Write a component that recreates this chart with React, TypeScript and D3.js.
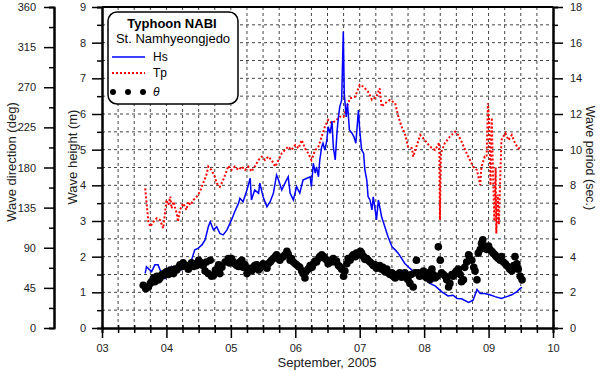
import React, { useEffect, useRef } from 'react';
import * as d3 from 'd3';

// time is day of September 2005 (decimal)
const dayTicks = [3, 4, 5, 6, 7, 8, 9, 10];
const dayLabels = ['03', '04', '05', '06', '07', '08', '09', '10'];
const heightTicks = [0, 1, 2, 3, 4, 5, 6, 7, 8, 9];
const directionTicks = [0, 45, 90, 135, 180, 225, 270, 315, 360];
const periodTicks = [0, 2, 4, 6, 8, 10, 12, 14, 16, 18];

// Hs (m)
const hsData: [number, number][] = [
  [3.67, 1.53], [3.69, 1.72], [3.77, 1.58], [3.82, 1.77], [3.87, 1.77], [3.90, 1.63],
  [3.95, 1.53], [3.98, 1.39], [4.03, 1.49], [4.08, 1.72], [4.13, 1.58], [4.18, 1.67],
  [4.24, 1.63], [4.29, 1.72], [4.34, 1.67], [4.39, 1.91], [4.44, 2.19], [4.49, 2.23],
  [4.55, 2.33], [4.60, 2.47], [4.65, 2.84], [4.68, 2.98], [4.73, 2.75], [4.78, 2.84],
  [4.83, 2.65], [4.88, 2.61], [4.94, 2.75], [5.01, 3.03], [5.06, 3.26], [5.12, 3.50],
  [5.14, 3.64], [5.19, 3.54], [5.25, 3.87], [5.30, 4.20], [5.32, 3.59], [5.37, 3.87],
  [5.43, 3.78], [5.45, 4.06], [5.50, 3.68], [5.56, 3.40], [5.61, 3.54], [5.66, 3.78],
  [5.71, 4.29], [5.74, 4.15], [5.79, 3.87], [5.84, 4.06], [5.89, 4.24], [5.92, 3.78],
  [5.97, 3.59], [6.02, 3.96], [6.07, 3.78], [6.12, 4.15], [6.18, 4.20], [6.23, 4.24],
  [6.25, 3.96], [6.28, 4.62], [6.31, 4.34], [6.33, 4.52], [6.36, 4.24], [6.38, 4.71],
  [6.41, 5.08], [6.43, 5.18], [6.46, 4.99], [6.49, 5.27], [6.51, 5.64], [6.54, 5.46],
  [6.57, 5.80], [6.59, 5.08], [6.62, 4.71], [6.65, 5.55], [6.67, 5.92], [6.69, 6.20],
  [6.72, 6.39], [6.745, 8.31], [6.76, 6.58], [6.79, 5.92], [6.81, 6.30], [6.84, 5.55],
  [6.88, 5.46], [6.91, 5.36], [6.94, 5.18], [6.98, 6.11], [7.00, 5.55], [7.03, 4.99],
  [7.06, 4.90], [7.08, 4.43], [7.11, 4.15], [7.13, 3.68], [7.16, 3.59], [7.19, 3.31],
  [7.21, 3.68], [7.24, 3.31], [7.26, 3.03], [7.29, 3.59], [7.31, 3.40], [7.34, 3.12],
  [7.39, 2.84], [7.44, 2.56], [7.50, 2.28], [7.55, 2.19], [7.60, 2.09], [7.65, 1.95],
  [7.70, 1.81], [7.78, 1.67], [7.86, 1.55], [7.94, 1.44], [8.01, 1.38], [8.09, 1.25],
  [8.17, 1.18], [8.27, 1.02], [8.37, 0.90], [8.45, 0.92], [8.51, 0.83], [8.58, 0.82],
  [8.69, 0.72], [8.76, 0.78], [8.82, 1.08], [8.87, 0.97], [8.94, 0.97], [9.02, 0.93],
  [9.10, 0.88], [9.20, 0.83], [9.28, 0.88], [9.36, 0.93], [9.44, 1.02], [9.49, 1.11],
  [9.52, 1.14],
];

// Tp (sec.)
const tpData: [number, number][] = [
  [3.67, 7.83], [3.72, 5.96], [3.75, 5.68], [3.80, 5.96], [3.85, 6.15], [3.90, 6.06],
  [3.95, 5.59], [3.98, 6.52], [4.00, 7.18], [4.03, 6.90], [4.06, 7.36], [4.08, 6.71],
  [4.11, 7.08], [4.13, 6.80], [4.16, 6.43], [4.18, 5.96], [4.21, 6.62], [4.26, 6.99],
  [4.31, 6.62], [4.34, 7.08], [4.37, 6.90], [4.42, 7.18], [4.47, 7.36], [4.52, 7.64],
  [4.57, 8.12], [4.62, 8.58], [4.65, 9.05], [4.70, 8.86], [4.75, 8.49], [4.78, 8.12],
  [4.83, 7.92], [4.88, 8.30], [4.94, 8.86], [4.96, 9.10], [5.01, 8.86], [5.06, 9.05],
  [5.12, 8.86], [5.17, 9.05], [5.22, 8.86], [5.27, 9.05], [5.32, 8.77], [5.37, 9.05],
  [5.43, 9.42], [5.48, 9.61], [5.53, 9.42], [5.58, 9.61], [5.63, 9.42], [5.69, 9.05],
  [5.74, 9.42], [5.79, 9.80], [5.84, 9.98], [5.89, 10.17], [5.94, 9.98], [6.00, 10.26],
  [6.05, 10.08], [6.10, 10.54], [6.15, 10.08], [6.20, 9.80], [6.25, 9.42], [6.31, 9.98],
  [6.36, 10.17], [6.41, 10.73], [6.46, 11.29], [6.51, 11.67], [6.57, 11.48], [6.64, 11.67],
  [6.69, 11.85], [6.75, 11.85], [6.80, 12.41], [6.85, 12.88], [6.93, 12.97], [7.00, 13.63],
  [7.06, 13.53], [7.13, 13.25], [7.19, 12.79], [7.26, 12.97], [7.31, 13.44], [7.34, 12.41],
  [7.39, 12.60], [7.47, 12.79], [7.55, 12.60], [7.60, 11.85], [7.65, 11.29], [7.70, 10.92],
  [7.75, 10.17], [7.81, 10.08], [7.83, 9.61], [7.88, 10.17], [7.94, 10.82], [8.01, 10.54],
  [8.09, 10.17], [8.17, 9.98], [8.235, 10.40], [8.245, 6.06], [8.26, 9.80], [8.32, 10.36],
  [8.40, 10.73], [8.48, 11.01], [8.53, 10.82], [8.58, 10.45], [8.66, 9.80], [8.71, 9.42],
  [8.76, 9.05], [8.82, 8.86], [8.87, 8.02], [8.89, 9.05], [8.94, 9.61], [8.97, 9.60],
  [8.99, 12.60], [9.01, 11.50], [9.03, 8.00], [9.05, 11.80], [9.07, 8.50], [9.09, 6.00],
  [9.11, 9.00], [9.12, 5.30], [9.14, 7.50], [9.16, 5.80], [9.18, 8.30], [9.20, 10.54],
  [9.26, 10.92], [9.31, 10.54], [9.36, 10.82], [9.41, 10.36], [9.46, 10.08], [9.50, 10.08],
];

// theta (deg)
const dirData: [number, number][] = [
  [3.64, 48], [3.68, 44], [3.72, 46], [3.75, 50], [3.77, 52], [3.80, 56], [3.82, 52],
  [3.85, 58], [3.88, 54], [3.90, 56], [3.93, 60], [3.95, 59], [3.98, 62], [4.00, 63],
  [4.03, 60], [4.06, 65], [4.08, 62], [4.11, 61], [4.13, 66], [4.16, 65], [4.19, 68],
  [4.21, 71], [4.24, 69], [4.26, 73], [4.29, 70], [4.32, 69], [4.34, 66], [4.37, 71],
  [4.39, 73], [4.42, 69], [4.45, 72], [4.47, 70], [4.50, 76], [4.52, 74], [4.55, 71],
  [4.57, 70], [4.60, 64], [4.62, 74], [4.65, 61], [4.68, 76], [4.70, 58], [4.73, 59],
  [4.76, 65], [4.81, 71], [4.83, 61], [4.86, 68], [4.91, 74], [4.96, 78], [4.98, 73],
  [5.01, 78], [5.04, 74], [5.06, 72], [5.09, 70], [5.12, 69], [5.14, 74], [5.17, 76],
  [5.19, 68], [5.22, 71], [5.25, 61], [5.27, 66], [5.30, 67], [5.32, 64], [5.35, 67],
  [5.37, 70], [5.40, 71], [5.43, 65], [5.45, 67], [5.48, 69], [5.50, 72], [5.53, 70],
  [5.56, 67], [5.58, 72], [5.61, 74], [5.63, 76], [5.66, 78], [5.69, 80], [5.71, 82],
  [5.74, 78], [5.76, 76], [5.79, 79], [5.81, 80], [5.84, 82], [5.87, 86], [5.89, 83],
  [5.92, 76], [5.94, 78], [5.97, 74], [6.00, 72], [6.02, 71], [6.05, 69], [6.07, 68],
  [6.10, 64], [6.12, 61], [6.15, 56], [6.17, 64], [6.20, 66], [6.23, 70], [6.26, 68],
  [6.28, 72], [6.31, 75], [6.33, 74], [6.36, 78], [6.38, 80], [6.41, 82], [6.44, 80],
  [6.46, 78], [6.49, 76], [6.51, 72], [6.54, 76], [6.56, 74], [6.59, 78], [6.62, 74],
  [6.64, 75], [6.67, 70], [6.69, 69], [6.72, 66], [6.75, 58], [6.77, 64], [6.80, 72],
  [6.82, 78], [6.85, 76], [6.88, 80], [6.90, 82], [6.93, 80], [6.95, 84], [6.98, 82],
  [7.01, 86], [7.03, 84], [7.06, 80], [7.08, 77], [7.11, 78], [7.13, 76], [7.16, 74],
  [7.19, 72], [7.21, 70], [7.24, 71], [7.26, 67], [7.29, 68], [7.31, 70], [7.34, 66],
  [7.36, 68], [7.39, 63], [7.42, 66], [7.44, 62], [7.47, 60], [7.50, 62], [7.52, 58],
  [7.55, 56], [7.57, 60], [7.60, 59], [7.62, 62], [7.65, 57], [7.68, 60], [7.70, 62],
  [7.73, 56], [7.75, 54], [7.78, 50], [7.80, 60], [7.83, 46], [7.86, 62], [7.88, 76],
  [7.91, 62], [7.93, 58], [7.96, 60], [7.99, 64], [8.01, 58], [8.04, 56], [8.07, 62],
  [8.09, 54], [8.12, 66], [8.14, 60], [8.17, 56], [8.20, 58], [8.22, 91], [8.25, 76],
  [8.27, 62], [8.30, 60], [8.33, 58], [8.35, 54], [8.38, 46], [8.40, 50], [8.43, 60],
  [8.45, 58], [8.48, 62], [8.50, 64], [8.53, 66], [8.56, 60], [8.58, 52], [8.61, 54],
  [8.63, 68], [8.66, 74], [8.69, 82], [8.71, 78], [8.74, 76], [8.77, 68], [8.79, 64],
  [8.82, 54], [8.84, 84], [8.87, 88], [8.89, 95], [8.91, 99], [8.94, 92], [8.97, 88],
  [9.00, 92], [9.02, 88], [9.05, 86], [9.07, 84], [9.10, 82], [9.12, 80], [9.15, 78],
  [9.18, 76], [9.20, 80], [9.23, 74], [9.26, 72], [9.28, 70], [9.31, 68], [9.33, 66],
  [9.36, 64], [9.39, 70], [9.41, 80], [9.44, 72], [9.46, 66], [9.49, 58], [9.52, 54],
];

const FONT = '"Liberation Sans", Arial, sans-serif';

const App = () => {
  const svgRef = useRef<SVGSVGElement>(null);

  useEffect(() => {
    const width = 600;
    const height = 371;
    const left = 102, right = 553, top = 7, bottom = 328;

    const svg = d3.select(svgRef.current);
    svg.selectAll('*').remove();
    svg.attr('width', width).attr('height', height);

    const x = d3.scaleLinear().domain([3, 10]).range([left, right]);
    const yH = d3.scaleLinear().domain([0, 9]).range([bottom, top]);
    const yT = d3.scaleLinear().domain([0, 18]).range([bottom, top]);
    const yD = d3.scaleLinear().domain([0, 360]).range([bottom, top]);

    // grid
    const grid = svg.append('g')
      .attr('stroke', '#444')
      .attr('stroke-width', 1)
      .attr('stroke-dasharray', '3,3');
    d3.range(3.25, 10, 0.25).forEach(d => {
      grid.append('line')
        .attr('x1', x(d)).attr('x2', x(d))
        .attr('y1', bottom).attr('y2', top);
    });
    d3.range(0.5, 9, 0.5).forEach(d => {
      grid.append('line')
        .attr('x1', left).attr('x2', right)
        .attr('y1', yH(d)).attr('y2', yH(d));
    });

    // series
    const lineH = d3.line<[number, number]>().x(d => x(d[0])).y(d => yH(d[1]));
    const lineT = d3.line<[number, number]>().x(d => x(d[0])).y(d => yT(d[1]));

    svg.append('path')
      .datum(tpData)
      .attr('d', lineT)
      .attr('fill', 'none')
      .attr('stroke', '#ff0000')
      .attr('stroke-width', 2)
      .attr('stroke-dasharray', '2,2');

    svg.append('path')
      .datum(hsData)
      .attr('d', lineH)
      .attr('fill', 'none')
      .attr('stroke', '#0000ff')
      .attr('stroke-width', 1.5);

    svg.append('g')
      .selectAll('circle')
      .data(dirData)
      .enter()
      .append('circle')
      .attr('cx', d => x(d[0]))
      .attr('cy', d => yD(d[1]))
      .attr('r', 3.8)
      .attr('fill', '#000');

    const styleAxis = (g: any) => {
      g.attr('font-family', FONT).attr('font-size', 11);
      g.selectAll('text').attr('fill', '#222');
      g.selectAll('line').attr('stroke', '#000').attr('stroke-width', 1.5);
      g.select('.domain').attr('stroke', '#000').attr('stroke-width', 2);
    };

    // wave height axis
    svg.append('g').attr('transform', `translate(${left},0)`)
      .call(d3.axisLeft(yH).tickValues(d3.range(0.5, 9, 1)).tickSize(5).tickFormat(() => ''))
      .call(styleAxis);
    svg.append('g').attr('transform', `translate(${left},0)`)
      .call(d3.axisLeft(yH).tickValues(heightTicks).tickSize(10).tickSizeOuter(0).tickPadding(6).tickFormat(d3.format('d')))
      .call(styleAxis);

    // wave direction axis
    svg.append('g').attr('transform', `translate(54,0)`)
      .call(d3.axisLeft(yD).tickValues(d3.range(22.5, 360, 45)).tickSize(5).tickFormat(() => ''))
      .call(styleAxis);
    svg.append('g').attr('transform', `translate(54,0)`)
      .call(d3.axisLeft(yD).tickValues(directionTicks).tickSize(10).tickSizeOuter(0).tickPadding(8).tickFormat(d3.format('d')))
      .call(styleAxis);

    // wave period axis
    svg.append('g').attr('transform', `translate(${right},0)`)
      .call(d3.axisRight(yT).tickValues(d3.range(1, 18, 2)).tickSize(5).tickFormat(() => ''))
      .call(styleAxis);
    svg.append('g').attr('transform', `translate(${right},0)`)
      .call(d3.axisRight(yT).tickValues(periodTicks).tickSize(10).tickSizeOuter(0).tickPadding(7).tickFormat(d3.format('d')))
      .call(styleAxis);

    // time axis
    const minorDays = d3.range(3.25, 10, 0.25).filter(d => Math.abs(d - Math.round(d)) > 0.01);
    const xMinor = svg.append('g').attr('transform', `translate(0,${bottom})`)
      .call(d3.axisBottom(x).tickValues(minorDays).tickSize(5).tickFormat(() => ''))
      .call(styleAxis);
    xMinor.selectAll('.tick line').attr('y1', -3);
    const xMajor = svg.append('g').attr('transform', `translate(0,${bottom})`)
      .call(d3.axisBottom(x).tickValues(dayTicks).tickSize(10).tickSizeOuter(0).tickPadding(6)
        .tickFormat((d, i) => dayLabels[i]))
      .call(styleAxis);
    xMajor.selectAll('.tick line').attr('y1', -3);

    // top border
    svg.append('line')
      .attr('x1', left).attr('x2', right)
      .attr('y1', top).attr('y2', top)
      .attr('stroke', '#000').attr('stroke-width', 2);

    // axis titles
    const titles = svg.append('g').attr('font-family', FONT).attr('font-size', 13).attr('fill', '#222');
    titles.append('text')
      .attr('transform', 'translate(16,162) rotate(-90)')
      .attr('text-anchor', 'middle')
      .text('Wave direction (deg)');
    titles.append('text')
      .attr('transform', 'translate(77,157) rotate(-90)')
      .attr('text-anchor', 'middle')
      .text('Wave height (m)');
    titles.append('text')
      .attr('transform', 'translate(586,158) rotate(90)')
      .attr('text-anchor', 'middle')
      .attr('font-size', 12.5)
      .text('Wave period (sec.)');
    titles.append('text')
      .attr('x', 327).attr('y', 367)
      .attr('text-anchor', 'middle')
      .text('September, 2005');

    // legend
    const lg = svg.append('g').attr('font-family', FONT);
    lg.append('rect')
      .attr('x', 108).attr('y', 12)
      .attr('width', 130).attr('height', 92)
      .attr('rx', 9)
      .attr('fill', '#fff')
      .attr('stroke', '#000')
      .attr('stroke-width', 1.5);
    lg.append('text')
      .attr('x', 172).attr('y', 28)
      .attr('text-anchor', 'middle')
      .attr('font-size', 13).attr('font-weight', 'bold')
      .text('Typhoon NABI');
    lg.append('text')
      .attr('x', 173).attr('y', 43)
      .attr('text-anchor', 'middle')
      .attr('font-size', 13)
      .text('St. Namhyeongjedo');
    lg.append('line')
      .attr('x1', 112).attr('x2', 145).attr('y1', 57).attr('y2', 57)
      .attr('stroke', '#0000ff').attr('stroke-width', 1.5);
    lg.append('text').attr('x', 153).attr('y', 61).attr('font-size', 12).text('Hs');
    lg.append('line')
      .attr('x1', 112).attr('x2', 145).attr('y1', 73).attr('y2', 73)
      .attr('stroke', '#ff0000').attr('stroke-width', 2).attr('stroke-dasharray', '2,2');
    lg.append('text').attr('x', 153).attr('y', 77).attr('font-size', 12).text('Tp');
    [113, 128, 143].forEach(cx => {
      lg.append('circle').attr('cx', cx).attr('cy', 92).attr('r', 3).attr('fill', '#000');
    });
    lg.append('text').attr('x', 153).attr('y', 96).attr('font-size', 12).attr('font-style', 'italic').text('θ');
  }, []);

  return (
    <div>
      <svg ref={svgRef} style={{ position: 'absolute', left: 0, top: 0, display: 'block', background: '#fff' }}></svg>
    </div>
  );
};

export default App;
